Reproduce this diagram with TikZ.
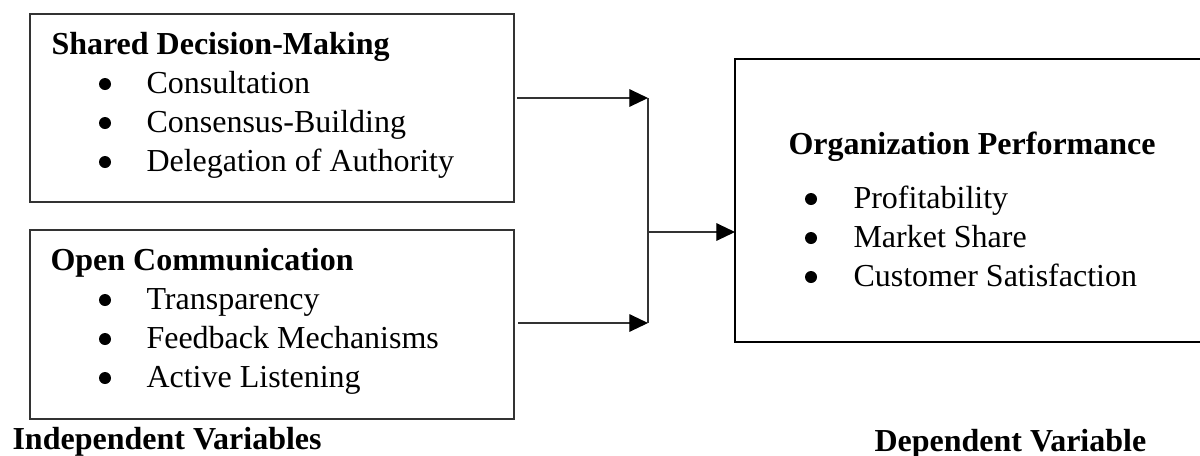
\documentclass[tikz,border=0pt]{standalone}
\usepackage{fontspec}
\setmainfont{Liberation Serif}
\usetikzlibrary{arrows.meta}
\begin{document}
\begin{tikzpicture}[x=0.375pt,y=-0.375pt,
  font=\fontsize{12}{14}\selectfont,
  thinbox/.style={draw=black!80, line width=0.45pt, rectangle, inner sep=0pt, outer sep=0pt, anchor=north west},
  thickbox/.style={draw=black, line width=0.85pt, rectangle, inner sep=0pt, outer sep=0pt, anchor=north west},
  ttl/.style={font=\fontsize{12}{14}\selectfont\bfseries, anchor=base west, inner sep=0pt},
  itm/.style={anchor=base west, inner sep=0pt},
  bul/.style={circle, fill=black, inner sep=0pt, minimum size=12*0.375pt},
  conn/.style={draw=black!80, line width=0.45pt},
  arr/.style={conn, -{Triangle[length=7pt, width=6.6pt, color=black]}}
]
\useasboundingbox (0,0) rectangle (1200,455);
\clip (0,0) rectangle (1200,455);

% boxes
\node[thinbox, minimum width=484*0.375pt, minimum height=188*0.375pt] (b1) at (30,14) {};
\node[thinbox, minimum width=484*0.375pt, minimum height=189*0.375pt] (b2) at (30,230) {};
\node[thickbox, minimum width=480*0.375pt, minimum height=283*0.375pt] (b3) at (735,59) {};

% box 1 text
\node[ttl] (t1) at (51,54) {Shared Decision-Making};
\node[bul] (p11) at (105,84) {};
\node[itm] (i11) at (146,93) {Consultation};
\node[bul] (p12) at (105,123) {};
\node[itm] (i12) at (146,132) {Consensus-Building};
\node[bul] (p13) at (105,162) {};
\node[itm] (i13) at (146,171) {Delegation of Authority};

% box 2 text
\node[ttl] (t2) at (50,270) {Open Communication};
\node[bul] (p21) at (105,300) {};
\node[itm] (i21) at (146,309) {Transparency};
\node[bul] (p22) at (105,339) {};
\node[itm] (i22) at (146,348) {Feedback Mechanisms};
\node[bul] (p23) at (105,378) {};
\node[itm] (i23) at (146,387) {Active Listening};

% box 3 text
\node[ttl] (t3) at (788,154) {Organization Performance};
\node[bul] (p31) at (811,199) {};
\node[itm] (i31) at (853,208) {Profitability};
\node[bul] (p32) at (811,238) {};
\node[itm] (i32) at (853,247) {Market Share};
\node[bul] (p33) at (811,277) {};
\node[itm] (i33) at (853,286) {Customer Satisfaction};

% captions
\node[ttl] (c1) at (12,449) {Independent Variables};
\node[ttl] (c2) at (874,451) {Dependent Variable};

% connectors
\coordinate (j1) at (648,98);
\coordinate (j2) at (648,323);
\coordinate (jm) at (648,232);
\draw[arr] ([xshift=3*0.375pt]b1.east |- j1) -- (j1);
\draw[arr] ([xshift=4*0.375pt]b2.east |- j2) -- (j2);
\draw[conn] (j1) -- (j2);
\draw[arr] (jm) -- (b3.west |- jm);
\end{tikzpicture}
\end{document}
